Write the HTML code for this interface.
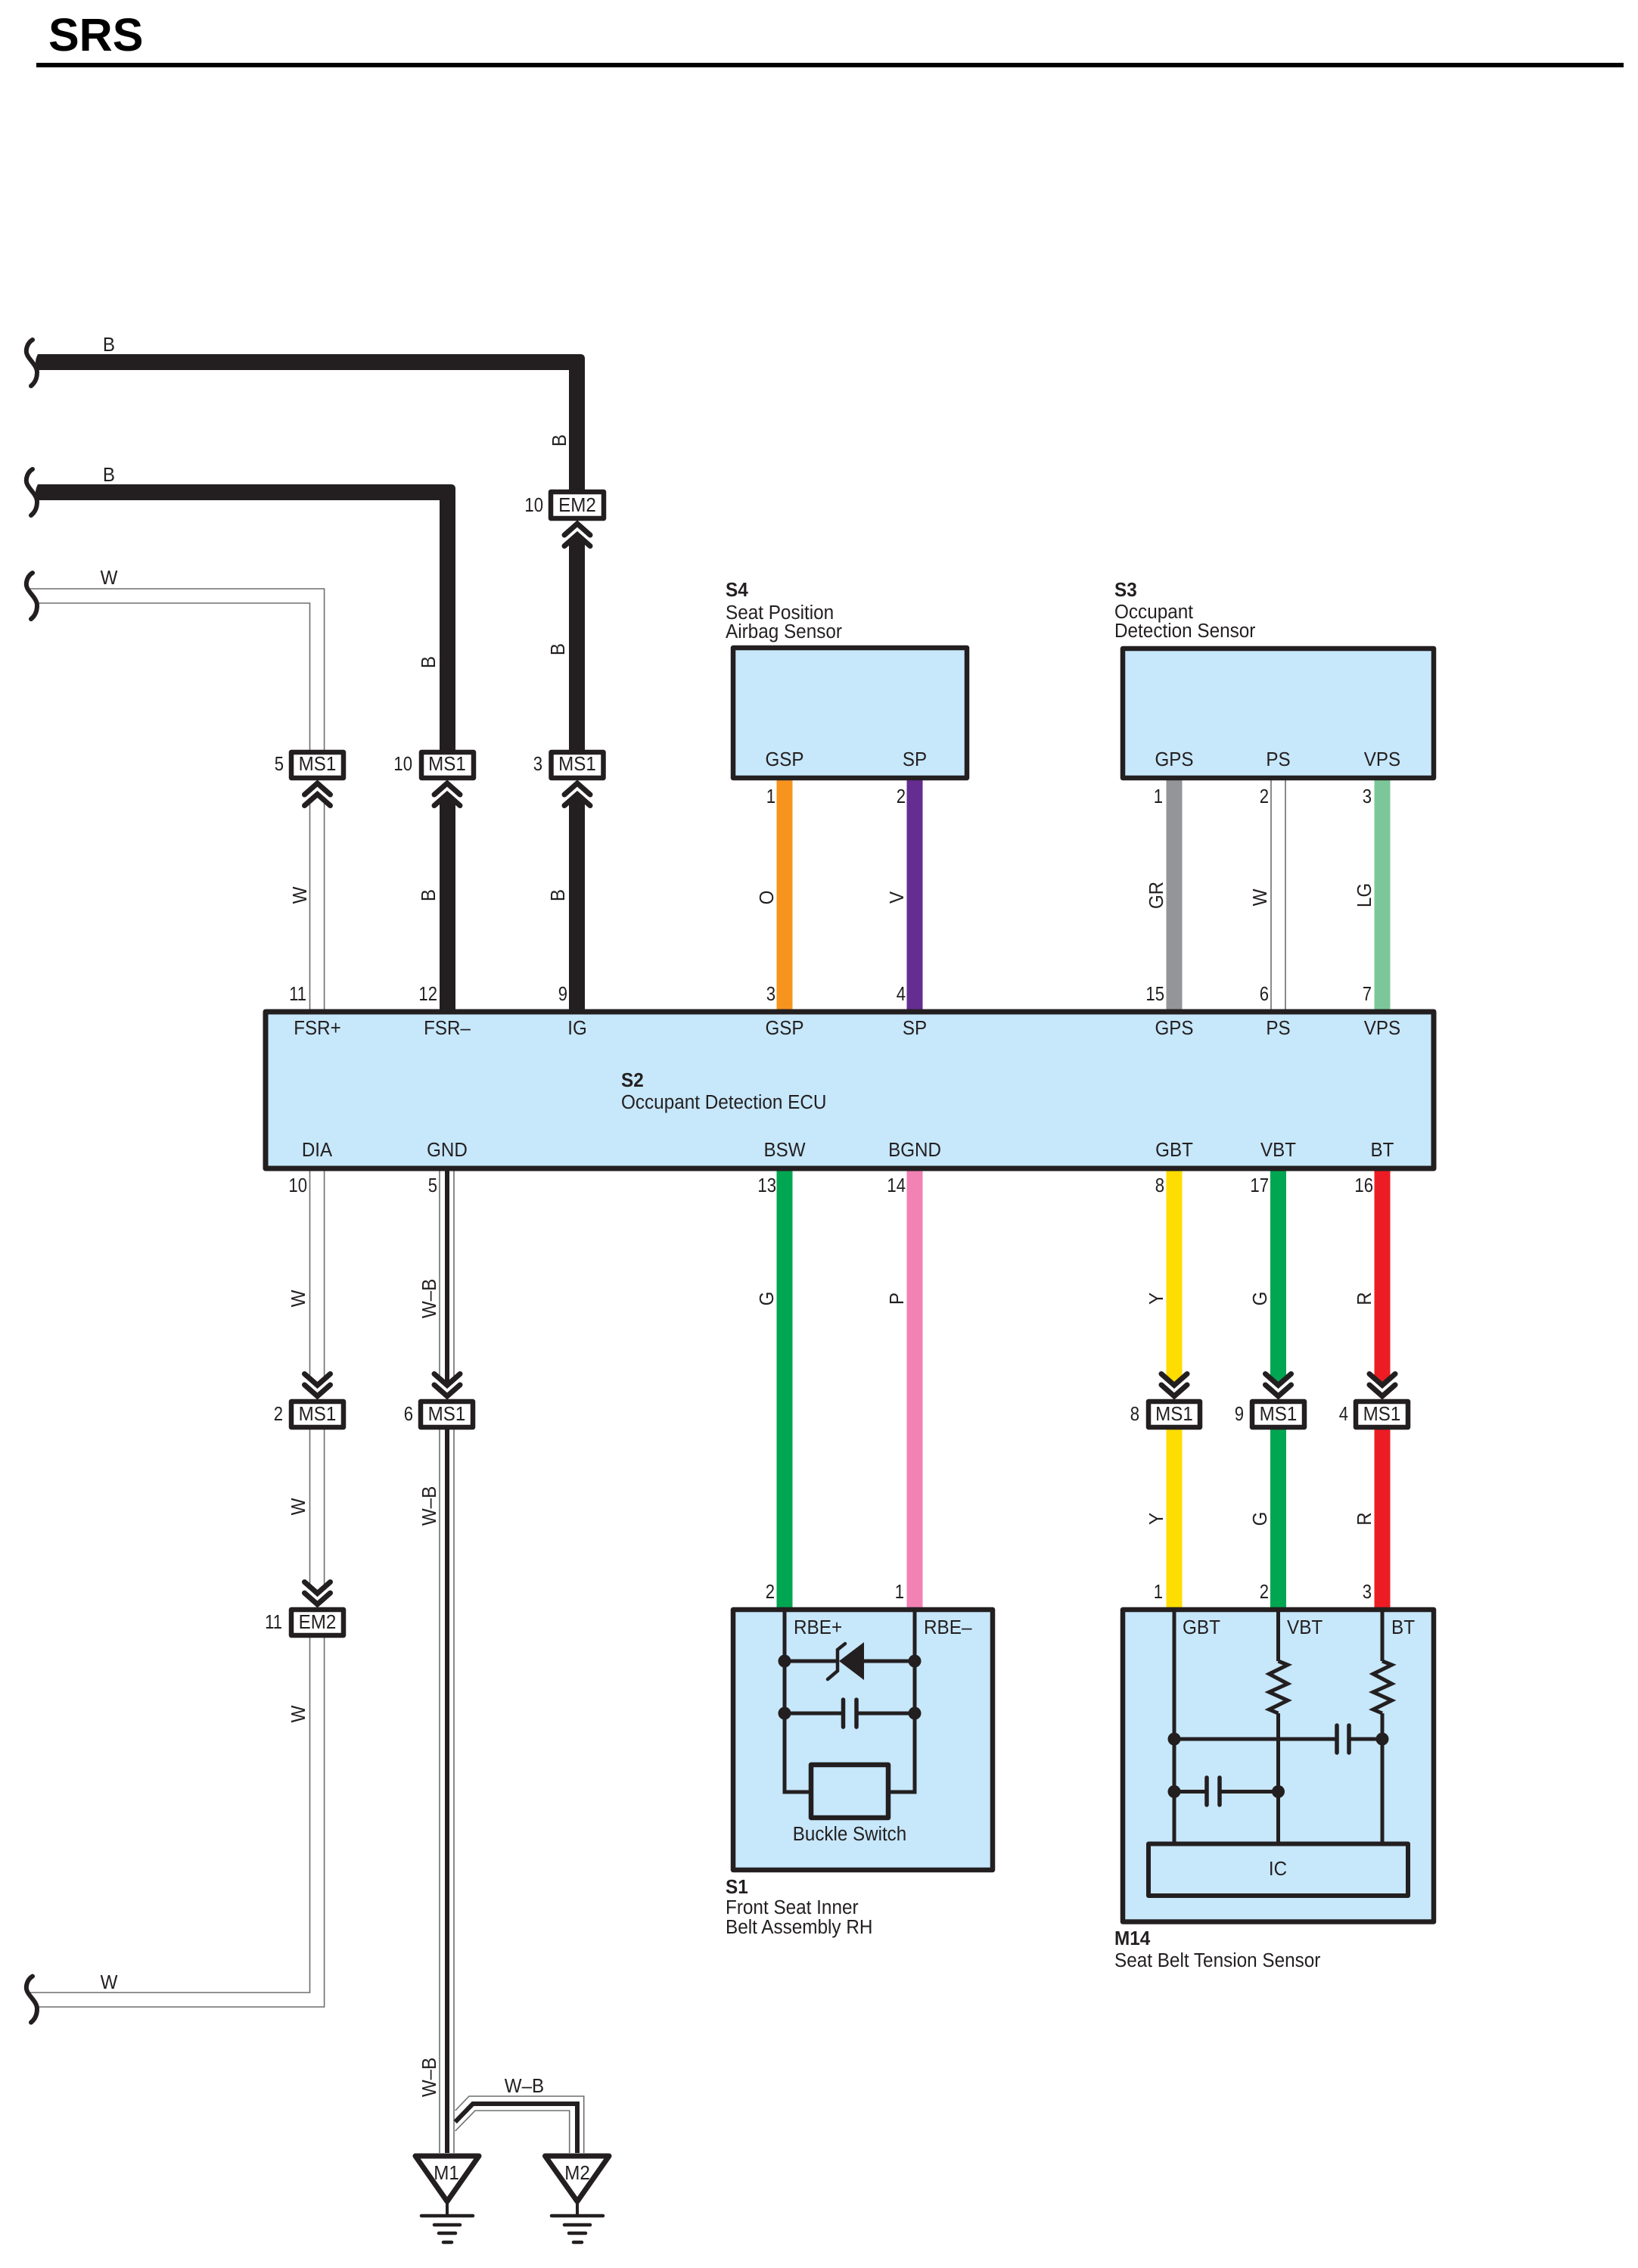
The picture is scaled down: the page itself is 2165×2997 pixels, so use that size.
<!DOCTYPE html>
<html><head><meta charset="utf-8"><title>SRS</title>
<style>
html,body{margin:0;padding:0;background:#fff}
svg{display:block}
text{font-family:"Liberation Sans",sans-serif;font-size:26px;fill:#231f20;text-anchor:middle;transform-box:fill-box;transform-origin:center;transform:scaleX(.93)}
.n{text-anchor:end;transform-origin:right;transform:scaleX(.85)}
.l{text-anchor:start;transform-origin:left;transform:scaleX(.935)}
.b{font-weight:bold}
.t{font-size:61px;font-weight:bold;text-anchor:start;transform:none;fill:#000}
.box{fill:#c7e7fa;stroke:#231f20;stroke-width:6.5;stroke-linejoin:round}
.con{fill:#fff;stroke:#231f20;stroke-width:6.5;stroke-linejoin:round}
.k{fill:none;stroke:#231f20;stroke-width:21}
.g{fill:none;stroke:#6d6e71;stroke-width:1.6}
.bl{fill:none;stroke:#231f20;stroke-width:6}
.i{fill:none;stroke:#231f20;stroke-width:5}
.pl{fill:none;stroke:#231f20;stroke-width:5.5;stroke-linecap:round}
.gr{fill:none;stroke:#231f20;stroke-width:4.5;stroke-linecap:round}
</style></head>
<body>
<svg xmlns="http://www.w3.org/2000/svg" width="2165" height="2997" viewBox="0 0 2165 2997">
<defs>
<path id="br" d="M43,449 C36,453 33,463 36,469 C39,476 49,483 49,492 C49,500 46,506 41,510" fill="none" stroke="#231f20" stroke-width="6" stroke-linecap="round"/>
<g id="c">
<polygon points="-23,34 -17,34 0,19 17,34 23,34 23,0 -23,0" fill="#fff"/>
<polyline points="-17,19 0,4 17,19" fill="none" stroke="#231f20" stroke-width="7" stroke-linecap="round"/>
<polyline points="-17,33.5 0,18.5 17,33.5" fill="none" stroke="#231f20" stroke-width="7" stroke-linecap="round"/>
</g>
<circle id="d" r="8.5" fill="#231f20"/>
<polyline id="rz" points="0,2195 12.5,2200 -12,2212 12.5,2225 -12,2236 12.5,2247 -12,2259 0,2264" fill="none" stroke="#231f20" stroke-width="5"/>
</defs>
<rect width="2165" height="2997" fill="#fff"/>

<text class="t" x="64" y="67">SRS</text>
<rect x="48" y="83" width="2098" height="6" fill="#000"/>

<!-- black wires -->
<path fill="#231f20" d="M50,468 H767 Q773,468 773,474 V647 H752 V489 H50 Q44,479 50,468 Z"/>
<path fill="#231f20" d="M50,640 H596 Q602,640 602,646 V991 H581 V661 H50 Q44,651 50,640 Z"/>
<path class="k" d="M762.5,688 V991"/>
<path class="k" d="M591.5,1031 V1334"/>
<path class="k" d="M762.5,1031 V1334"/>

<!-- white wires -->
<path class="g" d="M40,778 H428.6 V991"/>
<path class="g" d="M50,797 H409.5 V991"/>
<path class="g" d="M409.5,1031 V1334 M428.6,1031 V1334"/>
<path class="g" d="M409.5,1547 V1849 M428.6,1547 V1849"/>
<path class="g" d="M409.5,1889 V2124 M428.6,1889 V2124"/>
<path class="g" d="M40,2633 H409.5 V2164"/>
<path class="g" d="M48,2652 H428.6 V2164"/>
<path class="g" d="M1680,1031 V1334 M1699,1031 V1334"/>

<!-- W-B wires -->
<path class="bl" d="M591,1547 V1849 M591,1889 V2845"/>
<path class="g" d="M581,1547 V1849 M600,1547 V1849 M581,1889 V2845 M600,1889 V2845"/>
<path class="bl" d="M601.7,2804 L625,2780 H763 V2845"/>
<path class="g" d="M601.7,2789 L620,2770 H771.7 V2845"/>
<path class="g" d="M601.7,2816 L628,2789 H752.7 V2845"/>

<!-- coloured wires -->
<rect x="1026.5" y="1031" width="21" height="303" fill="#f7941e"/>
<rect x="1198.5" y="1031" width="21" height="303" fill="#662d91"/>
<rect x="1541.5" y="1031" width="21" height="303" fill="#939598"/>
<rect x="1816.5" y="1031" width="21" height="303" fill="#7cc799"/>
<rect x="1026.5" y="1547" width="21" height="577" fill="#00a651"/>
<rect x="1198.5" y="1547" width="21" height="577" fill="#f282b4"/>
<rect x="1541.5" y="1547" width="21" height="577" fill="#ffdd00"/>
<rect x="1679" y="1547" width="21" height="577" fill="#00a651"/>
<rect x="1816.5" y="1547" width="21" height="577" fill="#ed1c24"/>

<!-- breaks -->
<use href="#br"/>
<use href="#br" y="171"/>
<use href="#br" y="308"/>
<use href="#br" y="2162.5"/>

<!-- chevrons -->
<use href="#c" transform="translate(763,688)"/>
<use href="#c" transform="translate(419.5,1031)"/>
<use href="#c" transform="translate(591,1031)"/>
<use href="#c" transform="translate(763,1031)"/>
<use href="#c" transform="translate(419.5,1849) scale(1,-1)"/>
<use href="#c" transform="translate(591,1849) scale(1,-1)"/>
<use href="#c" transform="translate(1552,1849) scale(1,-1)"/>
<use href="#c" transform="translate(1689.5,1849) scale(1,-1)"/>
<use href="#c" transform="translate(1827,1849) scale(1,-1)"/>
<use href="#c" transform="translate(419.5,2124) scale(1,-1)"/>

<!-- connector boxes -->
<rect class="con" x="728" y="650" width="70" height="35"/>
<rect class="con" x="385" y="994" width="69" height="34"/>
<rect class="con" x="557" y="994" width="69" height="34"/>
<rect class="con" x="728.5" y="994" width="69" height="34"/>
<rect class="con" x="385" y="1852" width="69" height="34"/>
<rect class="con" x="556" y="1852" width="69" height="34"/>
<rect class="con" x="1518" y="1852" width="68" height="34"/>
<rect class="con" x="1655" y="1852" width="69" height="34"/>
<rect class="con" x="1792" y="1852" width="69" height="34"/>
<rect class="con" x="385" y="2127" width="69" height="34"/>

<text x="763" y="676">EM2</text>
<text x="419.5" y="1018">MS1</text>
<text x="591" y="1018">MS1</text>
<text x="763" y="1018">MS1</text>
<text x="419.5" y="1877">MS1</text>
<text x="590.5" y="1877">MS1</text>
<text x="1552" y="1877">MS1</text>
<text x="1689.5" y="1877">MS1</text>
<text x="1826.5" y="1877">MS1</text>
<text x="419.5" y="2152">EM2</text>

<!-- main boxes -->
<rect class="box" x="969" y="856" width="309" height="172"/>
<rect class="box" x="1484" y="857" width="411" height="171"/>
<rect class="box" x="351" y="1337" width="1544" height="207" style="stroke-width:7"/>
<rect class="box" x="969" y="2127" width="343" height="344"/>
<rect class="box" x="1484" y="2127" width="411" height="412.5"/>

<!-- S1 internals -->
<path class="i" d="M1037,2127 V2368 H1069 M1209,2127 V2368 H1177"/>
<path class="i" d="M1037,2195 H1109 M1142,2195 H1209"/>
<path class="i" d="M1037,2264 H1114 M1132,2264 H1209"/>
<polygon points="1109,2195 1142,2170 1142,2220" fill="#231f20"/>
<polyline points="1117,2172 1107,2180 1107,2208 1094,2219" fill="none" stroke="#231f20" stroke-width="4.5" stroke-linecap="round"/>
<path class="pl" d="M1114.5,2246 V2282 M1132,2246 V2282"/>
<use href="#d" x="1037" y="2195"/><use href="#d" x="1209" y="2195"/>
<use href="#d" x="1037" y="2264"/><use href="#d" x="1209" y="2264"/>
<rect class="box" x="1072" y="2332" width="102" height="70"/>

<!-- M14 internals -->
<path class="i" d="M1552,2127 V2434"/>
<path class="i" d="M1689.5,2127 V2195 M1689.5,2264 V2434"/>
<path class="i" d="M1827,2127 V2195 M1827,2264 V2434"/>
<use href="#rz" x="1689.5"/><use href="#rz" x="1827"/>
<path class="i" d="M1552,2298 H1767 M1783,2298 H1827"/>
<path class="i" d="M1552,2367.5 H1595 M1612,2367.5 H1689.5"/>
<path class="pl" d="M1767,2280 V2316 M1783,2280 V2316 M1595,2349 V2385 M1612,2349 V2385"/>
<use href="#d" x="1552" y="2298"/><use href="#d" x="1827" y="2298"/>
<use href="#d" x="1552" y="2367.5"/><use href="#d" x="1689.5" y="2367.5"/>
<rect class="box" x="1518" y="2436.5" width="343" height="68.5" style="stroke-width:6"/>

<!-- grounds -->
<polygon points="549,2849 633,2849 591,2909" fill="#fff" stroke="#231f20" stroke-width="7" stroke-linejoin="round"/>
<polygon points="720.5,2849 805,2849 763,2909" fill="#fff" stroke="#231f20" stroke-width="7" stroke-linejoin="round"/>
<path d="M591,2908 V2928 M763,2908 V2928" stroke="#231f20" stroke-width="4" fill="none"/>
<path class="gr" d="M557,2928 H625 M574,2940 H608 M580,2951 H602 M586,2963 H597"/>
<path class="gr" d="M729,2928 H797 M746,2940 H780 M752,2951 H774 M758,2963 H769"/>
<text x="590" y="2880">M1</text>
<text x="763" y="2880">M2</text>

<!-- horizontal wire labels -->
<text x="144" y="464">B</text>
<text x="144" y="636">B</text>
<text x="144" y="772">W</text>
<text x="144" y="2628">W</text>
<text x="693" y="2765">W–B</text>

<!-- rotated wire labels -->
<g transform="translate(748,582) rotate(-90)"><text>B</text></g>
<g transform="translate(575,875) rotate(-90)"><text>B</text></g>
<g transform="translate(746,858) rotate(-90)"><text>B</text></g>
<g transform="translate(405,1183) rotate(-90)"><text>W</text></g>
<g transform="translate(575,1183) rotate(-90)"><text>B</text></g>
<g transform="translate(746,1183) rotate(-90)"><text>B</text></g>
<g transform="translate(1022,1186) rotate(-90)"><text>O</text></g>
<g transform="translate(1194,1186) rotate(-90)"><text>V</text></g>
<g transform="translate(1537,1183) rotate(-90)"><text>GR</text></g>
<g transform="translate(1674,1186) rotate(-90)"><text>W</text></g>
<g transform="translate(1812,1183) rotate(-90)"><text>LG</text></g>
<g transform="translate(403,1716) rotate(-90)"><text>W</text></g>
<g transform="translate(576,1716) rotate(-90)"><text>W–B</text></g>
<g transform="translate(1022,1716) rotate(-90)"><text>G</text></g>
<g transform="translate(1194,1716) rotate(-90)"><text>P</text></g>
<g transform="translate(1537,1716) rotate(-90)"><text>Y</text></g>
<g transform="translate(1674,1716) rotate(-90)"><text>G</text></g>
<g transform="translate(1812,1716) rotate(-90)"><text>R</text></g>
<g transform="translate(403,1991) rotate(-90)"><text>W</text></g>
<g transform="translate(576,1990) rotate(-90)"><text>W–B</text></g>
<g transform="translate(1537,2007) rotate(-90)"><text>Y</text></g>
<g transform="translate(1674,2007) rotate(-90)"><text>G</text></g>
<g transform="translate(1812,2007) rotate(-90)"><text>R</text></g>
<g transform="translate(403,2265) rotate(-90)"><text>W</text></g>
<g transform="translate(576,2745) rotate(-90)"><text>W–B</text></g>

<!-- pin numbers -->
<text class="n" x="718" y="676">10</text>
<text class="n" x="375" y="1018">5</text>
<text class="n" x="545" y="1018">10</text>
<text class="n" x="717" y="1018">3</text>
<text class="n" x="405" y="1322">11</text>
<text class="n" x="578" y="1322">12</text>
<text class="n" x="750" y="1322">9</text>
<text class="n" x="1025" y="1322">3</text>
<text class="n" x="1197" y="1322">4</text>
<text class="n" x="1539" y="1322">15</text>
<text class="n" x="1677" y="1322">6</text>
<text class="n" x="1813" y="1322">7</text>
<text class="n" x="1025" y="1061">1</text>
<text class="n" x="1197" y="1061">2</text>
<text class="n" x="1537" y="1061">1</text>
<text class="n" x="1677" y="1061">2</text>
<text class="n" x="1813" y="1061">3</text>
<text class="n" x="406" y="1575">10</text>
<text class="n" x="578" y="1575">5</text>
<text class="n" x="1026" y="1575">13</text>
<text class="n" x="1197" y="1575">14</text>
<text class="n" x="1539" y="1575">8</text>
<text class="n" x="1677" y="1575">17</text>
<text class="n" x="1815" y="1575">16</text>
<text class="n" x="374" y="1877">2</text>
<text class="n" x="546" y="1877">6</text>
<text class="n" x="1506" y="1877">8</text>
<text class="n" x="1644" y="1877">9</text>
<text class="n" x="1782" y="1877">4</text>
<text class="n" x="373" y="2152">11</text>
<text class="n" x="1024" y="2112">2</text>
<text class="n" x="1195" y="2112">1</text>
<text class="n" x="1537" y="2112">1</text>
<text class="n" x="1677" y="2112">2</text>
<text class="n" x="1813" y="2112">3</text>

<!-- terminal names -->
<text x="1037" y="1012">GSP</text>
<text x="1209" y="1012">SP</text>
<text x="1552" y="1012">GPS</text>
<text x="1689.5" y="1012">PS</text>
<text x="1827" y="1012">VPS</text>
<text x="419.5" y="1367">FSR+</text>
<text x="591" y="1367">FSR–</text>
<text x="763" y="1367">IG</text>
<text x="1037" y="1367">GSP</text>
<text x="1209" y="1367">SP</text>
<text x="1552" y="1367">GPS</text>
<text x="1689.5" y="1367">PS</text>
<text x="1827" y="1367">VPS</text>
<text x="419" y="1528">DIA</text>
<text x="591" y="1528">GND</text>
<text x="1037" y="1528">BSW</text>
<text x="1209" y="1528">BGND</text>
<text x="1552" y="1528">GBT</text>
<text x="1689.5" y="1528">VBT</text>
<text x="1827" y="1528">BT</text>
<text class="l" x="1049" y="2159">RBE+</text>
<text class="l" x="1221" y="2159">RBE–</text>
<text x="1123" y="2432">Buckle Switch</text>
<text class="l" x="1563" y="2159">GBT</text>
<text class="l" x="1701" y="2159">VBT</text>
<text class="l" x="1839" y="2159">BT</text>
<text x="1689" y="2478">IC</text>

<!-- component names -->
<text class="l b" x="959" y="788">S4</text>
<text class="l" x="959" y="818">Seat Position</text>
<text class="l" x="959" y="843">Airbag Sensor</text>
<text class="l b" x="1473" y="788">S3</text>
<text class="l" x="1473" y="817">Occupant</text>
<text class="l" x="1473" y="842">Detection Sensor</text>
<text class="l b" x="821" y="1436">S2</text>
<text class="l" x="821" y="1465">Occupant Detection ECU</text>
<text class="l b" x="959" y="2502">S1</text>
<text class="l" x="959" y="2529">Front Seat Inner</text>
<text class="l" x="959" y="2555">Belt Assembly RH</text>
<text class="l b" x="1473" y="2570">M14</text>
<text class="l" x="1473" y="2599">Seat Belt Tension Sensor</text>
</svg>
</body></html>
